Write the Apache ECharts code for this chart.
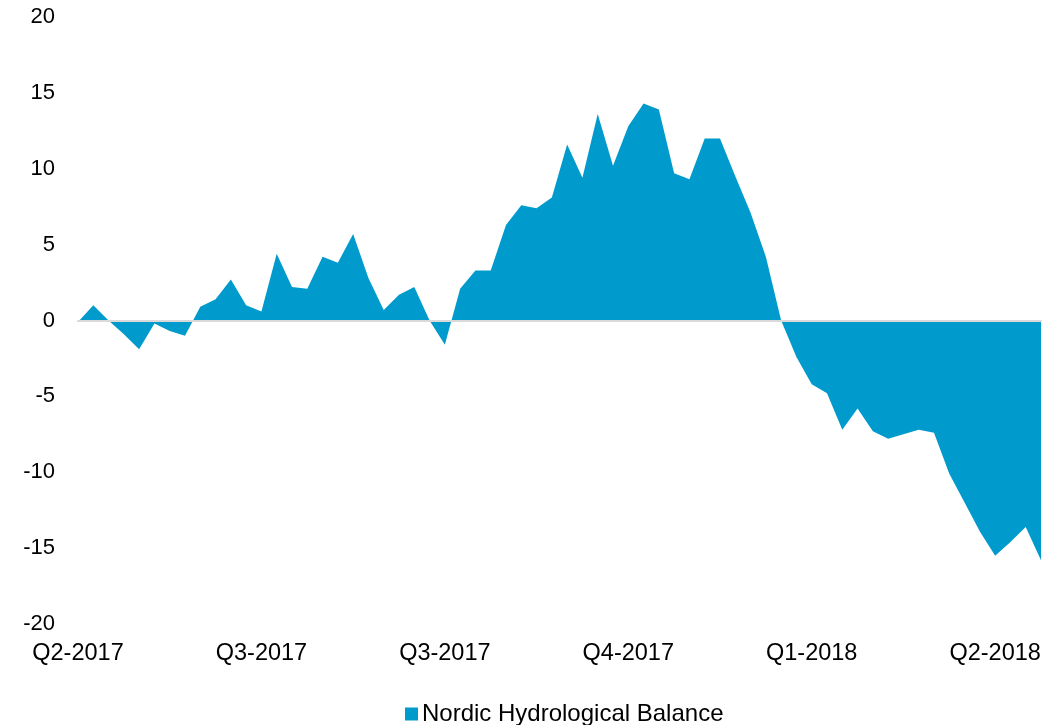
<!DOCTYPE html>
<html>
<head>
<meta charset="utf-8">
<script src="https://cdn.jsdelivr.net/npm/echarts@6/dist/echarts.min.js"></script>
<style>
html,body{margin:0;padding:0;background:#fff;}
#chart{width:1063px;height:725px;}
</style>
</head>
<body>
<div id="chart"></div>
<script>
// Tick labels shown on the x axis (every 12th weekly point)
const quarterLabels = ['Q2-2017', 'Q3-2017', 'Q3-2017', 'Q4-2017', 'Q1-2018', 'Q2-2018'];
const labelEvery = 12;

// Weekly hydrological balance values (TWh)
const balance = [
  -0.1, 1.0, 0.0, -0.9, -1.9, -0.2, -0.7, -1.0, 0.9, 1.4, 2.7, 1.0,
  0.6, 4.4, 2.2, 2.1, 4.2, 3.8, 5.7, 2.8, 0.7, 1.7, 2.2, 0.0,
  -1.6, 2.1, 3.3, 3.3, 6.3, 7.6, 7.4, 8.1, 11.6, 9.4, 13.6, 10.2,
  12.8, 14.3, 13.9, 9.7, 9.3, 12.0, 12.0, 9.5, 7.1, 4.2, 0.0, -2.4,
  -4.2, -4.8, -7.2, -5.8, -7.3, -7.8, -7.5, -7.2, -7.4, -10.1, -12.0, -13.9,
  -15.5, -14.6, -13.6, -15.8
];

const seriesName = 'Nordic Hydrological Balance';

const categories = balance.map((_, i) => (i % labelEvery === 0 ? quarterLabels[i / labelEvery] : ''));

const font = "'Liberation Sans', Arial, sans-serif";
const chart = echarts.init(document.getElementById('chart'));
chart.setOption({
  animation: false,
  backgroundColor: '#ffffff',
  grid: { left: 78, right: 22, top: 17, bottom: 101, containLabel: false },
  legend: {
    data: [{ name: seriesName, icon: 'rect' }],
    left: 405,
    top: 702,
    padding: 0,
    itemWidth: 13,
    itemHeight: 13,
    itemGap: 5,
    textStyle: { fontFamily: font, fontSize: 24, color: '#000', padding: [0, 0, 0, -1] }
  },
  xAxis: {
    type: 'category',
    data: categories,
    boundaryGap: false,
    z: 5,
    axisLine: { onZero: true, lineStyle: { color: '#d9d9d9', width: 2 } },
    axisTick: { show: false },
    splitLine: { show: false },
    axisLabel: {
      interval: labelEvery - 1,
      margin: 18,
      fontFamily: font,
      fontSize: 23.5,
      color: '#000'
    }
  },
  yAxis: {
    type: 'value',
    min: -20,
    max: 20,
    interval: 5,
    axisLine: { show: false },
    axisTick: { show: false },
    splitLine: { show: false },
    axisLabel: { margin: 23, fontFamily: font, fontSize: 22, color: '#000' }
  },
  series: [{
    name: seriesName,
    type: 'line',
    data: balance,
    symbol: 'none',
    showSymbol: false,
    lineStyle: { width: 0 },
    areaStyle: { color: '#009BCC', opacity: 1 },
    itemStyle: { color: '#009BCC' },
    z: 1
  }]
});
</script>
</body>
</html>
